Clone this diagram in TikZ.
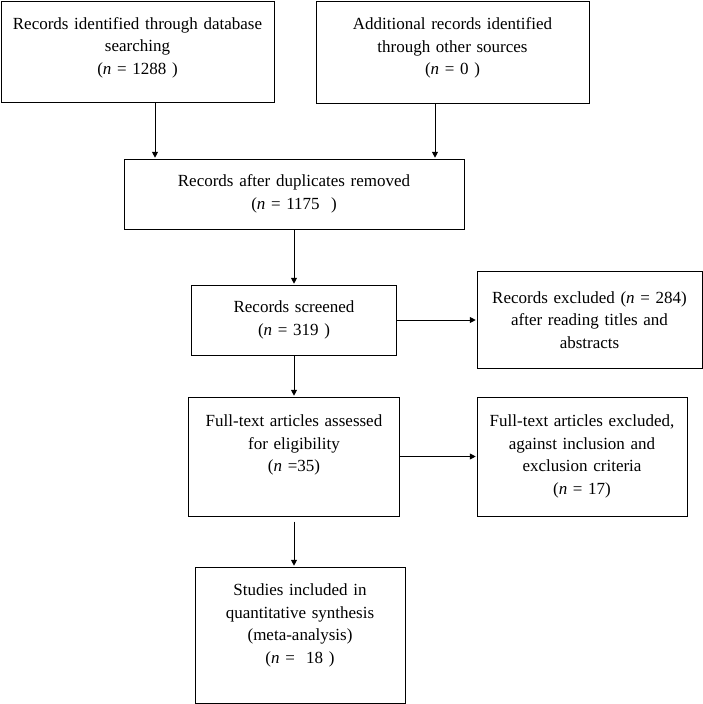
\documentclass[tikz,border=0pt]{standalone}
\usepackage{fontspec}
\setmainfont{Liberation Serif}
\usetikzlibrary{arrows.meta}

\begin{document}
\begin{tikzpicture}
    \tikzset{
      x=1pt, y=-1pt, % one unit is one pixel of the figure, y runs downwards
      ->, % makes the connectors directed
      >={Triangle[length=7pt, width=7pt]}, % filled arrow heads
      line width=1.1pt, % width of all strokes
      box/.style={draw, align=center, inner sep=0pt,
        font=\fontsize{17}{22.5}\selectfont}, % sets the properties of each box
    }
    \useasboundingbox (0,0) rectangle (703,704);

    \node[box, minimum width=273, minimum height=101, text width=265] (db) at (137.5,51.5)
      {Records identified through database\\ searching\\ (\textit{n} = 1288 )\\[-11pt]\mbox{}};
    \node[box, minimum width=273, minimum height=102, text width=265] (other) at (452.5,52)
      {Additional records identified\\ through other sources\\ (\textit{n} = 0 )\\[-11pt]\mbox{}};
    \node[box, minimum width=340, minimum height=70, text width=330] (dup) at (294,194)
      {Records after duplicates removed\\ (\textit{n} = 1175\ \ )};
    \node[box, minimum width=205, minimum height=70, text width=197] (screen) at (294,320)
      {Records screened\\ (\textit{n} = 319 )};
    \node[box, minimum width=225, minimum height=97, text width=217] (excl1) at (589.5,320)
      {Records excluded (\textit{n} = 284)\\ after reading titles and\\ abstracts};
    \node[box, minimum width=211, minimum height=119, text width=203] (full) at (294,456.5)
      {Full-text articles assessed\\ for eligibility\\ (\textit{n} =35)\\[4pt]\mbox{}};
    \node[box, minimum width=210, minimum height=119, text width=202] (excl2) at (582,456.5)
      {Full-text articles excluded,\\ against inclusion and\\ exclusion criteria\\ (\textit{n} = 17)};
    \node[box, minimum width=210, minimum height=136, text width=202] (incl) at (300,635)
      {Studies included in\\ quantitative synthesis\\ (meta-analysis)\\ (\textit{n} =\ \ 18 )\\ \mbox{}};

    \path (db.south -| 155,0) edge (dup.north -| 155,0)
          (other.south -| 435,0) edge (dup.north -| 435,0)
          (dup.south) edge (screen.north)
          (screen.east) edge (screen.east -| excl1.west)
          (screen.south) edge (full.north)
          (full.east) edge (full.east -| excl2.west)
          ([yshift=-5pt]full.south) edge (full.south |- incl.north);
  \end{tikzpicture}
\end{document}
